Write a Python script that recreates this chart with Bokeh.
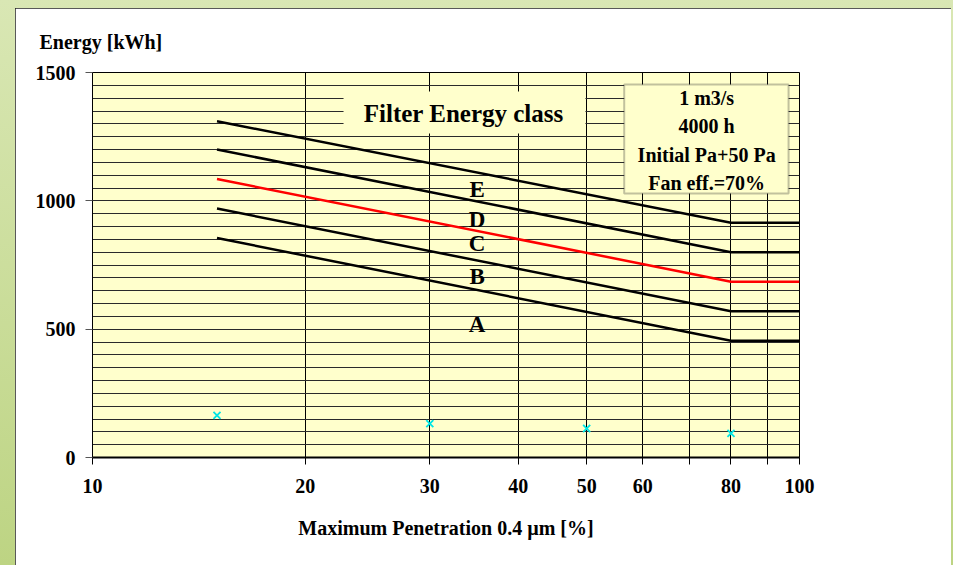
from bokeh.plotting import figure
from bokeh.models import (FixedTicker, Label, BoxAnnotation, Spacer, Range1d,
                          GlobalInlineStyleSheet, PrintfTickFormatter)
from bokeh.layouts import row, column
from bokeh.embed import file_html
from bokeh.resources import INLINE

# ---- data ----
x_bounds = [15, 80, 100]
class_E = [1310, 915, 915]
class_D = [1200, 800, 800]
class_C = [1085, 685, 685]
class_B = [970, 570, 570]
class_A = [855, 455, 455]
marker_x = [15, 30, 50, 80]
marker_y = [164, 132, 113, 94]
x_label_ticks = [10, 20, 30, 40, 50, 60, 80, 100]
x_minor_ticks = [70, 90]
y_ticks = [0, 500, 1000, 1500]
class_names = ["E", "D", "C", "B", "A"]
info_lines = ["1 m3/s", "4000 h", "Initial Pa+50 Pa", "Fan eff.=70%"]

FONT = "Liberation Serif"

p = figure(frame_width=707, frame_height=385, x_axis_type="log",
           x_range=Range1d(10, 100), y_range=Range1d(0, 1500),
           min_border_left=77, min_border_right=152, min_border_top=64,
           min_border_bottom=108, output_backend="svg", toolbar_location=None)
p.background_fill_color = "#ffffcc"
p.border_fill_color = "white"
p.outline_line_color = "black"
p.outline_line_width = 1
p.styles = {"outline": "2px solid #222222", "outline-offset": "-2px"}
p.stylesheets = [GlobalInlineStyleSheet(css=(
    "html { background: linear-gradient(to bottom, #d9e7b4, #bdd483); min-height: 100%; }"
    " body { margin: 0 !important; background: transparent !important; }"))]

# "Energy [kWh]" as horizontal title, top left
p.title.text = "Energy [kWh]"
p.title.align = "left"
p.title.offset = -53
p.title.standoff = 39
p.title.text_font = FONT
p.title.text_font_style = "bold"
p.title.text_font_size = "20px"
p.title.text_color = "black"

# x axis
p.xaxis.ticker = FixedTicker(ticks=x_label_ticks, minor_ticks=x_minor_ticks)
p.xaxis.formatter = PrintfTickFormatter(format="%d")
p.xaxis.major_tick_out = 7
p.xaxis.major_tick_in = 0
p.xaxis.minor_tick_out = 7
p.xaxis.minor_tick_in = 0
p.xaxis.axis_line_width = 2
p.xaxis.axis_line_color = "black"
p.xaxis.major_tick_line_color = "black"
p.xaxis.minor_tick_line_color = "black"
p.xaxis.major_label_text_font = FONT
p.xaxis.major_label_text_font_style = "bold"
p.xaxis.major_label_text_font_size = "20px"
p.xaxis.major_label_text_color = "black"
p.xaxis.major_label_standoff = 14
p.xaxis.axis_label = "Maximum Penetration 0.4 µm [%]"
p.xaxis.axis_label_text_font = FONT
p.xaxis.axis_label_text_font_style = "bold"
p.xaxis.axis_label_text_font_size = "20px"
p.xaxis.axis_label_text_color = "black"
p.xaxis.axis_label_standoff = 21

# y axis
p.yaxis.ticker = FixedTicker(ticks=y_ticks)
p.yaxis.major_tick_out = 7
p.yaxis.major_tick_in = 0
p.yaxis.minor_tick_line_color = None
p.yaxis.axis_line_color = "black"
p.yaxis.major_tick_line_color = "#555555"
p.yaxis.major_label_text_font = FONT
p.yaxis.major_label_text_font_style = "bold"
p.yaxis.major_label_text_font_size = "20px"
p.yaxis.major_label_text_color = "black"
p.yaxis.major_label_standoff = 10

# grids
p.xgrid.ticker = FixedTicker(ticks=[20, 30, 40, 50, 60, 70, 80, 90])
p.xgrid.grid_line_color = "black"
p.xgrid.grid_line_width = 1
p.ygrid.ticker = FixedTicker(ticks=list(range(50, 1500, 50)))
p.ygrid.grid_line_color = "#2a2a2a"
p.ygrid.grid_line_width = 1

# boundary lines
for ys, col in [(class_E, "black"), (class_D, "black"), (class_C, "red"),
                (class_B, "black"), (class_A, "black")]:
    p.line(x_bounds, ys, line_color=col, line_width=2.5)

p.scatter(marker_x, marker_y, marker="x", size=10, line_color="#00e5e5", line_width=1.8)

# title box
p.add_layout(BoxAnnotation(left=22.65, right=49.8, bottom=1262, top=1426,
                           fill_color="#ffffcc", fill_alpha=1, line_color=None))
p.add_layout(Label(x=33.5, y=1340, text="Filter Energy class", text_align="center",
                   text_baseline="middle", text_font=FONT, text_font_style="bold",
                   text_font_size="25px", text_color="black"))

# info box
p.add_layout(BoxAnnotation(left=56.5, right=96.5, bottom=1029, top=1453,
                           fill_color="#ffffcc", fill_alpha=1, line_color="#333333",
                           line_width=2))
for txt, yy in zip(info_lines, [1399, 1290, 1177, 1071]):
    p.add_layout(Label(x=73.9, y=yy, text=txt, text_align="center", text_baseline="middle",
                       text_font=FONT, text_font_style="bold", text_font_size="20px",
                       text_color="black"))

# class letters
for name, yy in zip(class_names, [1044, 927, 834, 705, 518]):
    p.add_layout(Label(x=35, y=yy, text=name, text_align="center", text_baseline="middle",
                       text_font=FONT, text_font_style="bold", text_font_size="23px",
                       text_color="black"))

clear = {"background": "transparent"}
layout = column(Spacer(width=10, height=8, styles=clear),
                row(Spacer(width=15, height=557, styles=clear), p, styles=clear),
                styles=clear)
open("out.html", "w").write(file_html(layout, INLINE))
